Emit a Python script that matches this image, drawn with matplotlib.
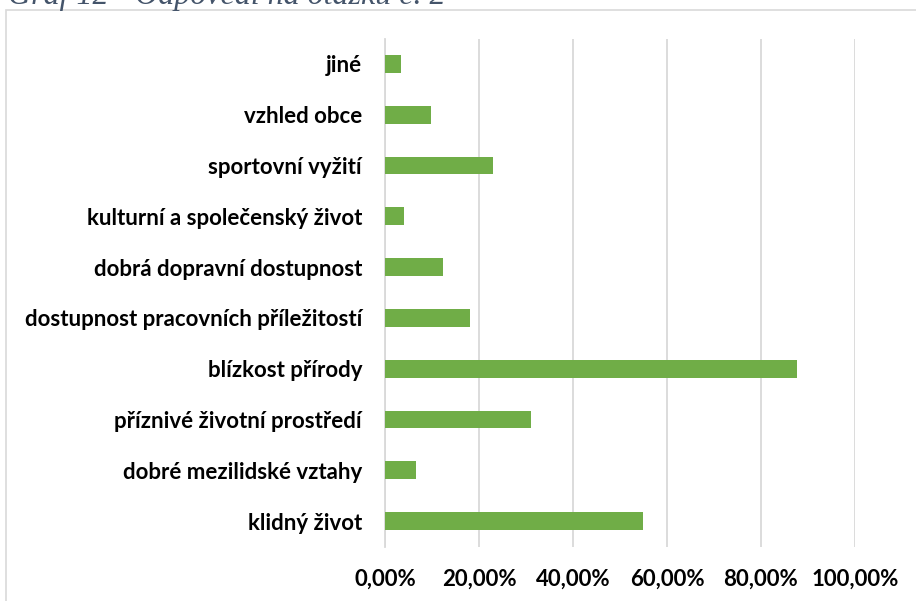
import numpy as np
import matplotlib
matplotlib.use("Agg")
import matplotlib.pyplot as plt
from matplotlib.patches import Rectangle
from matplotlib.ticker import FuncFormatter

# odpovedi na otazku c. 2 (podil respondentu)
categories = ["klidný život", "dobré mezilidské vztahy", "příznivé životní prostředí",
              "blízkost přírody", "dostupnost pracovních příležitostí",
              "dobrá dopravní dostupnost", "kulturní a společenský život",
              "sportovní vyžití", "vzhled obce", "jiné"]
values = [0.549, 0.066, 0.311, 0.877, 0.181, 0.123, 0.040, 0.230, 0.098, 0.033]
xticks = [0.0, 0.2, 0.4, 0.6, 0.8, 1.0]

W, H = 916, 601
fig = plt.figure(figsize=(W / 100, H / 100), dpi=100)

# chart frame (cut off at the right and bottom)
fig.patches.append(Rectangle((6 / W, -0.1), 1.0, 1 - 10 / H + 0.1,
                             transform=fig.transFigure, fill=False,
                             edgecolor="#d9d9d9", lw=1.2))

# caption above the chart, partly cut off
fig.text(8 / W, 1 - 4 / H, "Graf 12 - Odpovědi na otázku č. 2",
         family="Liberation Serif", style="italic", fontsize=23,
         color="#44546a", va="baseline", ha="left")

ax = fig.add_axes([385 / W, 1 - 546.5 / H, 470 / W, 508 / H])
y = np.arange(len(categories))
ax.barh(y, values, height=0.35, color="#70ad47", zorder=3)
ax.set_ylim(-0.5, len(categories) - 0.5)
ax.set_xlim(0, 1)
ax.set_xticks(xticks)
ax.xaxis.set_major_formatter(FuncFormatter(lambda v, p: f"{v*100:.2f}%".replace(".", ",")))
ax.set_yticks(y)
ax.set_yticklabels(categories)
ax.grid(axis="x", color="#d9d9d9", lw=1.3, zorder=0)
for s in ["top", "right", "bottom"]:
    ax.spines[s].set_visible(False)
ax.spines["left"].set_color("#d9d9d9")
ax.spines["left"].set_linewidth(1.3)
ax.tick_params(axis="both", length=0)
ax.tick_params(axis="y", pad=16.5)
ax.tick_params(axis="x", pad=16)
for lab in ax.get_xticklabels() + ax.get_yticklabels():
    lab.set_family("Lato")
    lab.set_fontweight("bold")
    lab.set_fontsize(16)
    lab.set_color("#000000")

fig.savefig("out.png", dpi=100)
